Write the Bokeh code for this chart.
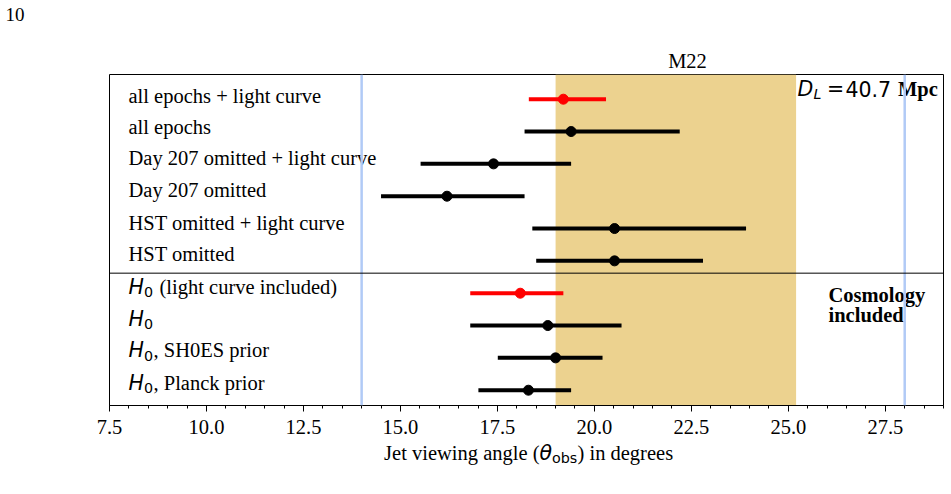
from bokeh.plotting import figure
from bokeh.layouts import column
from bokeh.models import (Range1d, Span, BoxAnnotation, LinearAxis, FixedTicker,
                          SingleIntervalTicker, PrintfTickFormatter)
from bokeh.core.properties import value
from bokeh.embed import file_html
from bokeh.resources import INLINE

# ---- data -------------------------------------------------------------
run_labels = ["all epochs + light curve", "all epochs",
              "Day 207 omitted + light curve", "Day 207 omitted",
              "HST omitted + light curve", "HST omitted"]
h0_suffix = ["(light curve included)", "", ", SH0ES prior", ", Planck prior"]

theta_best = [19.20, 19.40, 17.40, 16.20, 20.52, 20.52, 18.09, 18.80, 19.00, 18.30]
theta_low = [18.31, 18.20, 15.52, 14.50, 18.40, 18.50, 16.80, 16.80, 17.51, 17.01]
theta_high = [20.30, 22.20, 19.40, 18.20, 23.91, 22.80, 19.20, 20.70, 20.21, 19.40]
row_colors = ["red", "black", "black", "black", "black", "black",
              "red", "black", "black", "black"]
rows = [9, 8, 7, 6, 5, 4, 3, 2, 1, 0]

m22_band = (19.0, 25.2)
ref_lines = [14.0, 28.0]
section_split = 3.62

# ---- layout -----------------------------------------------------------
X0, X1 = 7.5, 29.0
Y0, Y1 = -0.473, 9.764
W = 951
LEFT, RIGHT, MTOP, MBOT = 109, 8, 1, 37
TOP_H = 73
MAIN_H = MTOP + 331 + MBOT
BOT_H = 494 - TOP_H - MAIN_H
FW = W - LEFT - RIGHT
FH = MAIN_H - MTOP - MBOT
FRAME_TOP = TOP_H + MTOP
PPU_Y = FH / (Y1 - Y0)

SERIF = "Liberation Serif"
SANS = "DejaVu Sans"
FS, FS_SUB = 20.5, 14.3
K_BASE = 0.3375   # em offset between the requested and drawn baseline

# baseline of each row label, in px below its bar
label_drop = [4.0, 2.0, 1.0, 0.5, 1.0, 0.5, 0.5, 0.0, -0.5, -0.5]

x_range = Range1d(X0, X1)


def dx(px):
    return X0 + (px - LEFT) * (X1 - X0) / FW


def dy(py):
    return Y1 - (py - FRAME_TOP) * (Y1 - Y0) / FH


def txt(fig, x, y, text, ppu, font=SERIF, size=FS, style="normal",
        align="left"):
    fig.text(x=[x], y=[y + K_BASE * size / ppu], text=[text],
             text_font=value(font), text_font_size=value(f"{size}px"),
             text_font_style=style, text_align=align,
             text_baseline="alphabetic", text_color="black")


def strip(height):
    f = figure(width=W, height=height, x_range=x_range,
               y_range=Range1d(height, 0), x_axis_type=None, y_axis_type=None,
               output_backend="svg", toolbar_location=None,
               min_border_left=LEFT, min_border_right=RIGHT,
               min_border_top=0, min_border_bottom=0)
    f.outline_line_color = None
    f.background_fill_color = "white"
    f.border_fill_color = "white"
    return f


# ---- header strip: page number and band name ---------------------------
top = strip(TOP_H)
page_no = LinearAxis(ticker=FixedTicker(ticks=[13.5]),
                     major_label_overrides={13.5: "10"},
                     axis_line_color=None, major_tick_line_color=None,
                     minor_tick_line_color=None, major_tick_in=0,
                     major_tick_out=0, major_label_standoff=85,
                     major_label_text_font=SERIF,
                     major_label_text_font_size="19px",
                     major_label_text_color="black")
top.add_layout(page_no, "left")
txt(top, dx(687), 67, "M22", -1, align="center")

# ---- main panel --------------------------------------------------------
p = figure(width=W, height=MAIN_H, x_range=x_range,
           y_range=Range1d(Y0, Y1), y_axis_type=None,
           output_backend="svg", toolbar_location=None,
           min_border_left=LEFT, min_border_right=RIGHT,
           min_border_top=MTOP, min_border_bottom=MBOT)
p.grid.grid_line_color = None
p.outline_line_color = "black"
p.outline_line_width = 1
p.outline_line_alpha = 1
p.background_fill_color = "white"
p.border_fill_color = "white"

ax = p.xaxis[0]
ax.ticker = SingleIntervalTicker(interval=2.5, num_minor_ticks=5)
ax.formatter = PrintfTickFormatter(format="%.1f")
ax.major_label_text_font = SERIF
ax.major_label_text_font_size = f"{FS}px"
ax.major_label_text_color = "black"
ax.axis_line_color = "black"
ax.major_tick_line_color = "black"
ax.minor_tick_line_color = "black"
ax.major_tick_in = 0
ax.major_tick_out = 6
ax.minor_tick_in = 0
ax.minor_tick_out = 3
ax.major_label_standoff = 8

p.add_layout(BoxAnnotation(left=m22_band[0], right=m22_band[1],
                           fill_color="#ecd28f", fill_alpha=1.0,
                           line_alpha=0, level="underlay"))
for loc in ref_lines:
    p.add_layout(Span(location=loc, dimension="height",
                      line_color="#b1caf6", line_width=2.5))
p.add_layout(Span(location=section_split, dimension="width",
                  line_color="black", line_width=1))

p.segment(x0=theta_low, y0=rows, x1=theta_high, y1=rows,
          line_color=row_colors, line_width=4)
p.scatter(x=theta_best, y=rows, size=10, fill_color=row_colors,
          line_color=row_colors)

base = [r - d / PPU_Y for r, d in zip(rows, label_drop)]
for name, b in zip(run_labels, base[:6]):
    txt(p, dx(128), b, name, PPU_Y)
for suffix, b in zip(h0_suffix, base[6:]):
    txt(p, dx(128), b, "H", PPU_Y, font=SANS, style="italic")
    txt(p, dx(143.5), b - 3 / PPU_Y, "0", PPU_Y, font=SANS, size=FS_SUB)
    if suffix:
        txt(p, dx(159 if suffix.startswith("(") else 153), b, suffix, PPU_Y)

# luminosity distance
txt(p, dx(797), dy(95), "D", PPU_Y, font=SANS, style="italic")
txt(p, dx(813), dy(98), "L", PPU_Y, font=SANS, size=FS_SUB, style="italic")
txt(p, dx(826.5), dy(95), "=", PPU_Y, font=SANS)
txt(p, dx(845), dy(95), "40.7", PPU_Y, font=SANS)
txt(p, dx(897.5), dy(95), "Mpc", PPU_Y, style="bold")

txt(p, dx(828), dy(301), "Cosmology", PPU_Y, style="bold")
txt(p, dx(828), dy(321), "included", PPU_Y, style="bold")

# ---- footer strip: axis title -----------------------------------------
bot = strip(BOT_H)
bot_y0 = TOP_H + MAIN_H
txt(bot, dx(539), 459 - bot_y0, "Jet viewing angle (", -1, align="right")
txt(bot, dx(539), 459 - bot_y0, "\u03b8", -1, font=SANS, style="italic")
txt(bot, dx(551.5), 462 - bot_y0, "obs", -1, font=SANS, size=FS_SUB)
txt(bot, dx(577), 459 - bot_y0, ") in degrees", -1)

page = column(top, p, bot, spacing=0)
open("out.html", "w").write(file_html(page, INLINE))
